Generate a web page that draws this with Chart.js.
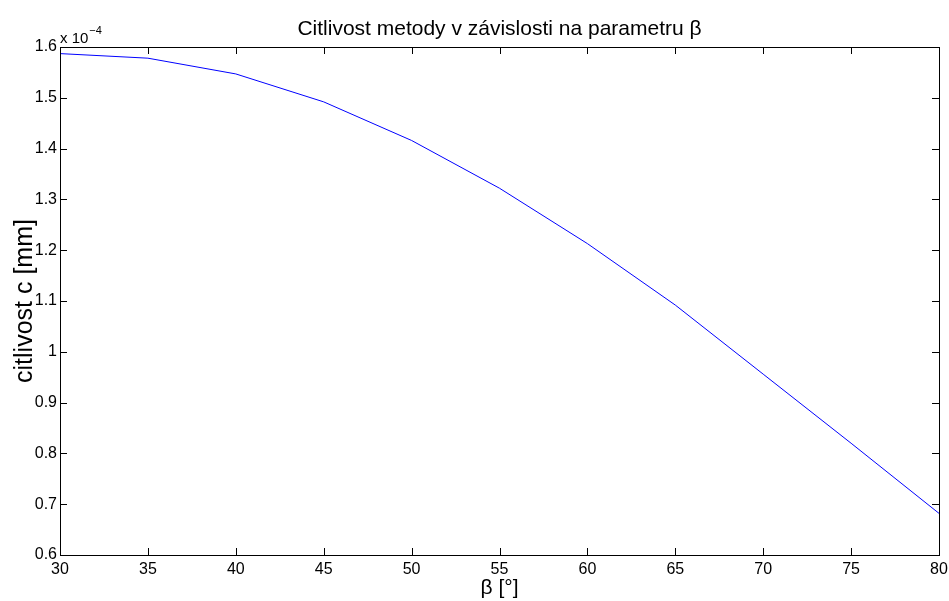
<!DOCTYPE html>
<html>
<head>
<meta charset="utf-8">
<script src="https://cdn.jsdelivr.net/npm/chart.js@4/dist/chart.umd.min.js"></script>
<style>
  html,body{margin:0;padding:0;background:#fff}
  #wrap{width:949px;height:601px}
</style>
</head>
<body>
<div id="wrap"><canvas id="c"></canvas></div>
<script>
// beta angles [deg] and sensitivity (in units of 1e-4 mm)
const beta = [30, 35, 40, 45, 50, 55, 60, 65, 70, 75, 80];
const citlivost = [1.587, 1.578, 1.547, 1.492, 1.416, 1.322, 1.213, 1.092, 0.956, 0.820, 0.682];
const xTicks = [30, 35, 40, 45, 50, 55, 60, 65, 70, 75, 80];
const yTicks = [0.6, 0.7, 0.8, 0.9, 1, 1.1, 1.2, 1.3, 1.4, 1.5, 1.6];
const titleText = 'Citlivost metody v závislosti na parametru β';
const FONT = '"Liberation Sans", Arial, Helvetica, sans-serif';

// matlab-ish frame: box + inward ticks on all four sides, title over the axes, exponent label
const frame = {
  id: 'frame',
  afterDraw(chart) {
    const {ctx, chartArea: a, scales: {x, y}} = chart;
    const L = 7;
    ctx.save();
    ctx.strokeStyle = '#000';
    ctx.lineWidth = 1;
    ctx.beginPath();
    xTicks.forEach(v => {
      const px = Math.round(x.getPixelForValue(v)) + 0.5;
      ctx.moveTo(px, a.bottom); ctx.lineTo(px, a.bottom - L);
      ctx.moveTo(px, a.top); ctx.lineTo(px, a.top + L);
    });
    yTicks.forEach(v => {
      const py = Math.round(y.getPixelForValue(v)) + 0.5;
      ctx.moveTo(a.left, py); ctx.lineTo(a.left + L, py);
      ctx.moveTo(a.right, py); ctx.lineTo(a.right - L, py);
    });
    ctx.stroke();
    ctx.strokeRect(Math.round(a.left) + 0.5, Math.round(a.top) + 0.5,
      Math.round(a.right - a.left), Math.round(a.bottom - a.top));

    ctx.fillStyle = '#000';
    ctx.textBaseline = 'alphabetic';
    // title, centred on the axes box
    ctx.textAlign = 'center';
    ctx.font = '21px ' + FONT;
    ctx.fillText(titleText, (a.left + a.right) / 2, 35);
    // "x 10^-4"
    ctx.textAlign = 'left';
    ctx.font = '15px ' + FONT;
    ctx.fillText('x 10', a.left, a.top - 4);
    const w = ctx.measureText('x 10').width;
    ctx.font = '11px ' + FONT;
    ctx.fillText('\u22124', a.left + w + 1, a.top - 13);
    ctx.restore();
  }
};

new Chart(document.getElementById('c'), {
  type: 'line',
  data: {
    labels: beta,
    datasets: [{
      data: beta.map((b, i) => ({x: b, y: citlivost[i]})),
      borderColor: '#0000ff',
      borderWidth: 1,
      pointRadius: 0,
      tension: 0,
      fill: false
    }]
  },
  options: {
    responsive: true,
    maintainAspectRatio: false,
    animation: false,
    layout: {padding: {top: 47, right: 10, bottom: 0, left: 0}},
    plugins: {
      legend: {display: false},
      tooltip: {enabled: false},
      title: {display: false}
    },
    scales: {
      x: {
        type: 'linear',
        min: 30, max: 80,
        afterFit: s => { s.height = 46; s.paddingLeft = 0; s.paddingRight = 0; },
        afterBuildTicks: s => { s.ticks = xTicks.map(v => ({value: v})); },
        grid: {display: false, drawTicks: false},
        border: {display: false},
        ticks: {color: '#000', padding: 5, font: {family: FONT, size: 16}, maxRotation: 0},
        title: {display: true, text: 'β [°]', color: '#000', padding: {top: 3, bottom: 0},
          font: {family: FONT, size: 21}}
      },
      y: {
        min: 0.6, max: 1.6,
        afterFit: s => { s.width = 60; s.paddingTop = 0; s.paddingBottom = 0; },
        afterBuildTicks: s => { s.ticks = yTicks.map(v => ({value: v})); },
        grid: {display: false, drawTicks: false},
        border: {display: false},
        ticks: {color: '#000', padding: 3, font: {family: FONT, size: 16},
          callback: v => String(parseFloat(v.toFixed(1)))},
        title: {display: true, text: 'citlivost c [mm]', color: '#000', padding: {top: 10, bottom: 0},
          font: {family: FONT, size: 25}}
      }
    }
  },
  plugins: [frame]
});
</script>
</body>
</html>
